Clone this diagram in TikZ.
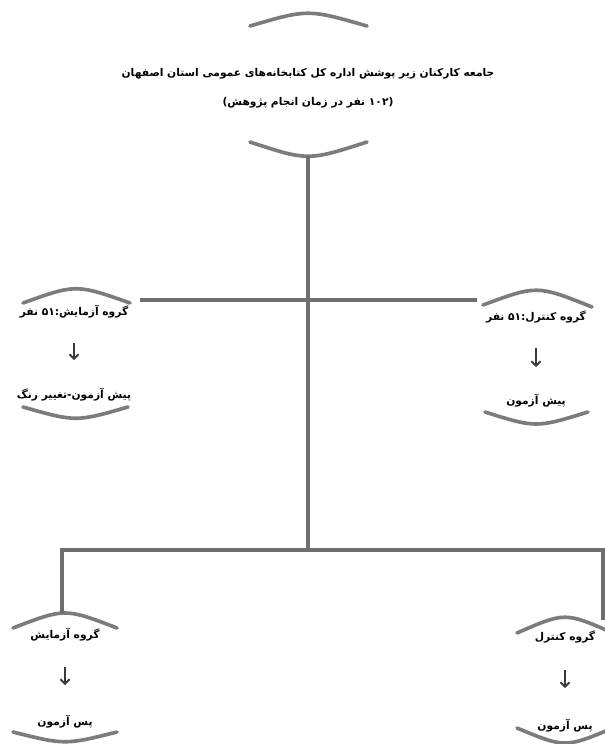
\documentclass[tikz,border=0pt]{standalone}
\usepackage{fontspec}
\usetikzlibrary{arrows.meta,positioning}
\newfontfamily\farsifont[Script=Arabic]{DejaVu Sans}
\TeXXeTstate=1
\definecolor{flowGray}{HTML}{7C7C7C}
\definecolor{flowLine}{HTML}{6E6E6E}
\definecolor{flowArrow}{HTML}{3A3A3A}
\tikzset{
  groupText/.style={
    font=\farsifont\bfseries\fontsize{7.6}{9}\selectfont,
    inner sep=1pt,
    align=center
  },
  capArc/.style={draw=flowGray, line width=2.6pt, line cap=round},
  flowLink/.style={flowLine, line width=2.2pt},
  stepArrow/.style={-{Straight Barb[length=3.2pt,width=6.5pt]}, flowArrow, line width=1.3pt}
}

\begin{document}
\begin{tikzpicture}[x=0.025cm,y=-0.025cm]
  \useasboundingbox (0,0) rectangle (605,744);

  % population
  \node[groupText, font=\farsifont\bfseries\fontsize{7.6}{20.5}\selectfont] (pop) at (308,88)
    {\beginR جامعه کارکنان زیر پوشش اداره کل کتابخانه‌های عمومی استان اصفهان\endR\\
     \beginR (۱۰۲ نفر در زمان انجام پژوهش)\endR};
  \draw[capArc] (250,26) .. controls (308,9) .. (367,26);
  \draw[capArc] (250,142) .. controls (308,161) .. (367,142);

  % pre-test groups
  \node[groupText] (expPre) at (74,312) {\beginR گروه آزمایش:۵۱ نفر\endR};
  \node[groupText] (expPreTest) at (74,395) {\beginR پیش آزمون-تغییر رنگ\endR};
  \node[groupText] (ctlPre) at (536,317) {\beginR گروه کنترل:۵۱ نفر\endR};
  \node[groupText] (ctlPreTest) at (536,401) {\beginR پیش آزمون\endR};
  \draw[capArc] (23,303) .. controls (76,284) .. (130,303);
  \draw[capArc] (23,407) .. controls (76,422) .. (128,407);
  \draw[capArc] (483,305) .. controls (537,285) .. (592,307);
  \draw[capArc] (485,412) .. controls (536,428) .. (588,412);

  % post-test groups
  \node[groupText] (expPost) at (65,635) {\beginR گروه آزمایش\endR};
  \node[groupText] (expPostTest) at (65,722) {\beginR پس آزمون\endR};
  \node[groupText] (ctlPost) at (565,637) {\beginR گروه کنترل\endR};
  \node[groupText] (ctlPostTest) at (565,726) {\beginR پس آزمون\endR};
  \draw[capArc] (13,628) .. controls (65,608) .. (117,628);
  \draw[capArc] (13,732) .. controls (65,745) .. (117,732);
  \draw[capArc] (517,633) .. controls (565,612) .. (613,633);
  \draw[capArc] (517,728) .. controls (565,748) .. (613,728);

  \draw[stepArrow, shorten <=0.775cm, shorten >=0.875cm] (expPre.center) -- (expPreTest.center);
  \draw[stepArrow, shorten <=0.775cm, shorten >=0.85cm] (ctlPre.center) -- (ctlPreTest.center);
  \draw[stepArrow, shorten <=0.8cm, shorten >=0.925cm] (expPost.center) -- (expPostTest.center);
  \draw[stepArrow, shorten <=0.825cm, shorten >=0.95cm] (ctlPost.center) -- (ctlPostTest.center);

  % tree lines
  \coordinate (popFoot) at (308,156);
  \coordinate (lowJoin) at (308,550);
  \coordinate (midLeft) at (140,300);
  \coordinate (midRight) at (477,300);
  \coordinate (lowLeft) at (62,613);
  \coordinate (lowRight) at (603,620);
  \draw[flowLink] (popFoot) -- (lowJoin);
  \draw[flowLink] (midLeft) -- (midRight);
  \draw[flowLink] (lowLeft) -- (lowLeft |- lowJoin) -- (lowRight |- lowJoin) -- (lowRight);
\end{tikzpicture}
\end{document}
